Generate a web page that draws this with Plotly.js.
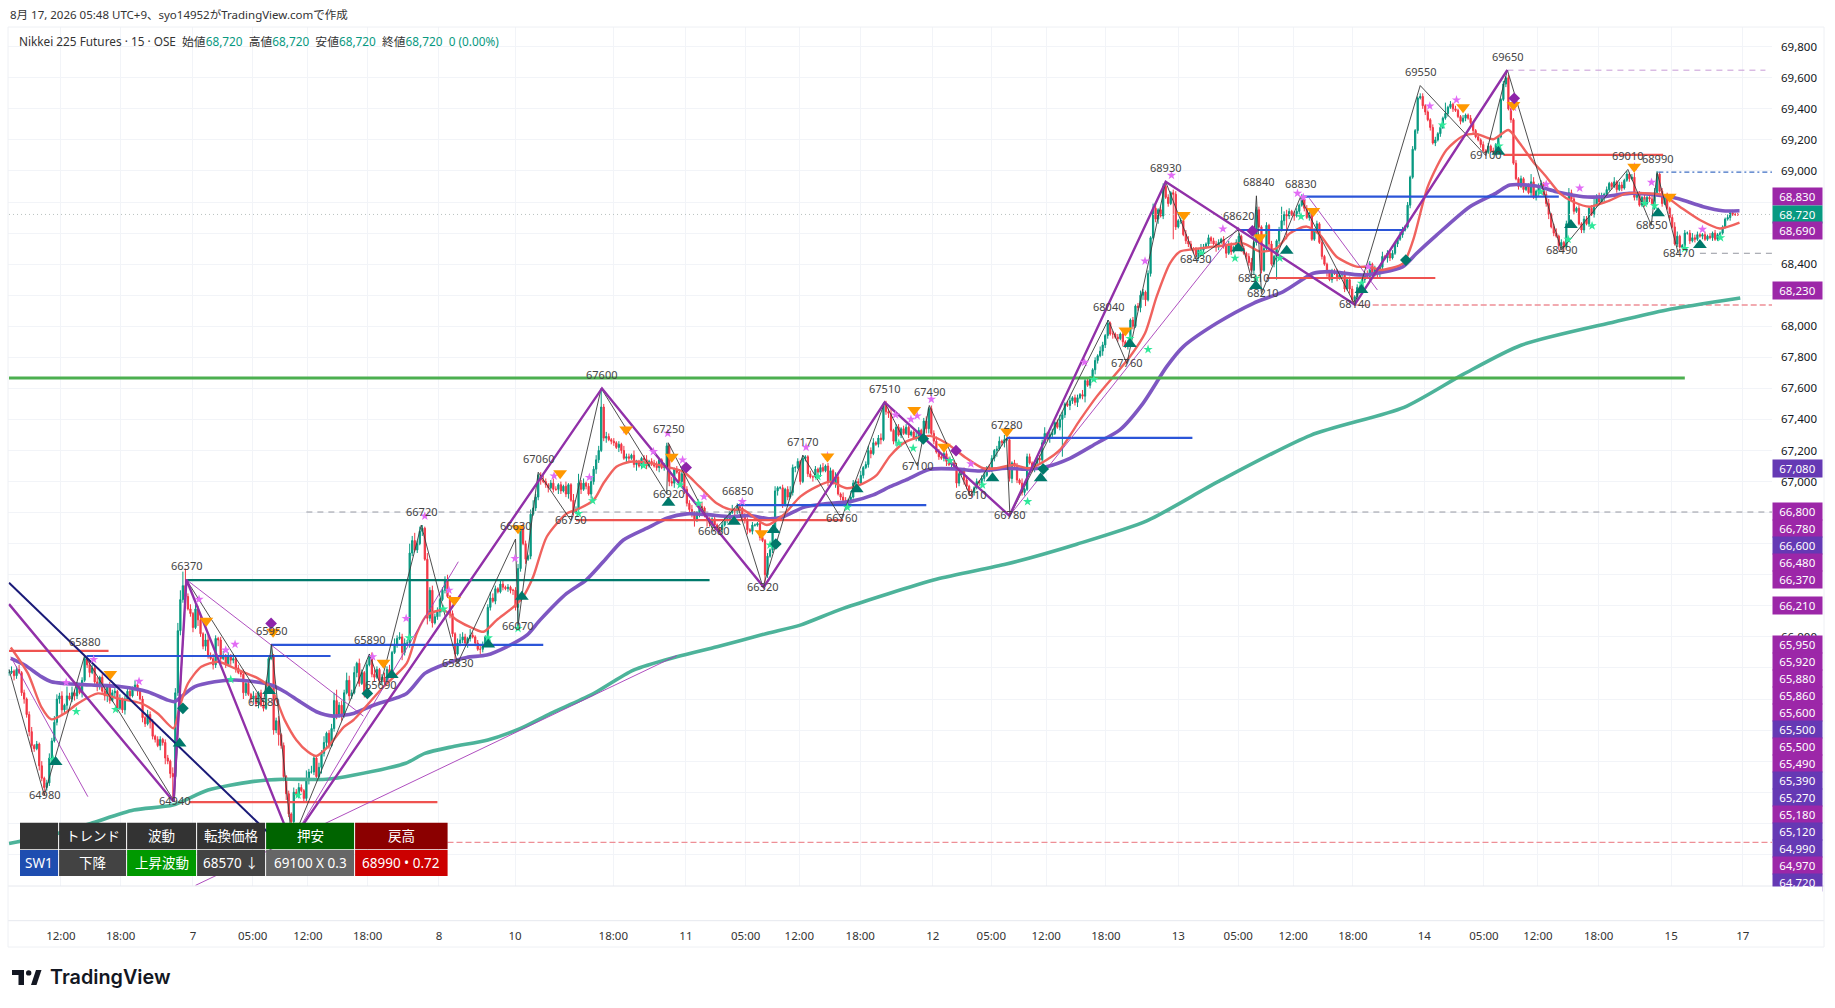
<!DOCTYPE html>
<html><head><meta charset="utf-8">
<script src="https://cdn.plot.ly/plotly-3.0.1.min.js"></script>
<style>html,body{margin:0;padding:0;background:#fff}#c{width:1835px;height:1008px}</style></head>
<body><div id="c"></div>
<script>
// ---------- price data (15 minute bars) ----------
const closes=[
65770,65780,65750,65790,65770,65640,65600,65500,65390,65300,
65280,65310,65170,65090,65030,65060,65220,65330,65450,65600,
65620,65530,65560,65620,65600,65640,65620,65680,65640,65720,
65860,65820,65770,65800,65710,65680,65740,65650,65620,65680,
65590,65640,65650,65540,65600,65530,65600,65650,65620,65670,
65690,65650,65600,65480,65440,65500,65450,65360,65340,65300,
65340,65320,65220,65200,65120,65100,65640,66040,66240,66330,
66260,66180,66150,66060,66180,66110,66020,65940,65980,65880,
65860,65820,65990,65980,65860,65880,65820,65880,65850,65860,
65800,65770,65760,65640,65700,65630,65600,65620,65570,65640,
65560,65540,65700,65860,65880,65400,65460,65370,65300,65100,
64990,64860,64810,65000,64990,65030,65010,64960,65080,65130,
65130,65220,65100,65160,65250,65320,65380,65300,65410,65590,
65500,65560,65500,65640,65720,65620,65640,65770,65830,65700,
65770,65640,65820,65880,65760,65740,65790,65720,65740,65710,
65790,65760,65900,65950,65990,66000,65900,65960,65960,66540,
66620,66560,66600,66680,66700,66500,66120,66300,66090,66130,
66160,66240,66300,66370,66260,66150,66020,65890,65960,65980,
66000,65960,65990,66010,66000,65960,65920,65920,65950,66000,
66190,66250,66230,66310,66290,66340,66320,66310,66320,66300,
66300,66190,66440,66700,66600,66500,66520,66790,66830,66900,
67040,67010,67000,66980,66960,66990,66950,66950,66980,66940,
66970,66920,66980,66880,66800,66820,66990,66950,66990,66970,
66920,67000,67080,67140,67200,67480,67280,67290,67270,67260,
67250,67220,67240,67200,67150,67160,67150,67170,67110,67120,
67100,67150,67140,67100,67130,67120,67100,67090,67140,67090,
67100,67230,67000,66990,67080,67060,67000,67050,66950,66860,
66820,66790,66750,66800,66840,66830,66780,66760,66730,66760,
66720,66700,66690,66720,66760,66760,66800,66820,66810,66840,
66830,66780,66750,66690,66680,66720,66720,66730,66640,66620,
66400,66520,66560,66700,66940,66960,66960,66850,66950,66900,
66930,67090,67090,67130,67000,67150,67160,67050,67030,67030,
67080,67060,67090,67070,67100,67000,67070,66990,67030,66920,
66900,66880,66840,66880,66900,66990,67000,66990,67040,67090,
67110,67200,67180,67250,67240,67280,67270,67500,67450,67440,
67330,67260,67350,67300,67340,67310,67350,67300,67320,67280,
67290,67330,67300,67390,67340,67470,67310,67260,67190,67160,
67150,67180,67130,67110,67120,67090,66990,67050,67070,67010,
66970,66930,66930,66960,67000,66990,67020,67040,67090,67070,
67150,67200,67210,67260,67250,67270,67270,67020,67120,67100,
67010,66990,66930,66950,67160,67120,67080,67120,67150,67140,
67250,67310,67280,67300,67310,67380,67350,67400,67430,67500,
67490,67520,67540,67510,67540,67560,67550,67650,67620,67660,
67720,67780,67810,67840,67880,67940,68020,67950,67950,67930,
67920,67950,67900,67870,67880,68040,68000,68130,68120,68200,
68220,68170,68340,68570,68760,68690,68750,68710,68900,68830,
68790,68860,68850,68640,68680,68680,68590,68550,68530,68500,
68490,68460,68490,68490,68510,68530,68570,68550,68530,68510,
68540,68560,68520,68470,68520,68480,68510,68540,68580,68500,
68470,68450,68410,68360,68540,68750,68640,68360,68500,68650,
68530,68400,68450,68550,68620,68680,68720,68710,68740,68720,
68710,68740,68780,68820,68760,68700,68730,68560,68620,68660,
68540,68450,68400,68350,68300,68350,68340,68310,68330,68340,
68240,68300,68240,68170,68190,68250,68240,68300,68340,68320,
68400,68330,68370,68340,68380,68450,68440,68470,68440,68470,
68530,68560,68590,68620,68640,68780,68960,69140,69260,69470,
69480,69420,69380,69330,69280,69180,69200,69240,69280,69340,
69370,69410,69430,69400,69390,69350,69320,69340,69360,69340,
69310,69260,69220,69200,69170,69130,69120,69160,69130,69120,
69170,69220,69460,69560,69600,69400,69330,69050,68950,68900,
68950,68880,68900,68860,68930,68830,68870,68900,68920,68850,
68790,68720,68640,68600,68580,68520,68540,68510,68660,68860,
68820,68740,68760,68660,68620,68690,68660,68760,68720,68780,
68840,68800,68830,68850,68880,68920,68900,68930,68880,68910,
68890,68940,68980,68950,68960,68830,68850,68780,68830,68790,
68830,68820,68790,68860,68980,68870,68790,68840,68760,68700,
68640,68530,68580,68510,68520,68600,68600,68550,68570,68560,
68590,68580,68590,68560,68580,68570,68600,68560,68590,68600,
68640,68690,68700,68730,68720,68720,68720];
// upper and lower wick lengths of each bar, in units of 10 points
const wickUp=[
2,3,1,2,3,1,2,1,2,3,1,2,1,3,1,2,3,2,4,3,2,3,1,6,2,4,2,3,1,2,
2,1,3,2,2,3,1,2,4,1,3,2,2,1,3,1,2,3,2,1,3,1,2,2,1,3,2,2,1,2,
2,1,2,2,1,4,3,5,6,9,11,2,3,1,5,2,2,1,4,3,2,3,2,1,2,3,1,2,1,3,
2,2,1,3,1,2,1,3,2,1,2,3,2,1,7,1,2,3,1,2,1,2,1,3,2,3,2,1,6,2,
4,2,1,3,2,4,1,2,3,5,7,2,3,2,5,3,2,4,1,3,2,1,3,1,2,3,2,1,2,3,
2,3,1,4,2,3,2,3,2,6,3,5,2,3,2,1,4,2,3,2,3,1,2,2,3,1,2,1,3,4,
3,2,1,4,2,1,2,3,2,1,2,4,3,2,1,2,3,1,2,1,1,2,3,2,3,2,1,3,5,2,
1,2,3,2,1,2,3,2,1,2,1,3,1,1,4,2,6,2,3,1,2,3,2,3,3,12,2,3,2,1,
2,1,2,1,3,2,2,1,3,2,2,1,2,3,1,2,2,3,1,1,2,2,1,3,1,2,2,3,1,2,
2,3,2,1,2,3,1,2,1,1,2,1,1,2,2,1,1,3,1,2,2,1,2,2,1,2,1,1,2,1,
1,2,1,2,3,1,1,2,1,2,4,2,1,2,1,2,1,1,2,1,2,1,2,3,1,2,2,1,3,2,
1,3,2,1,3,2,1,2,3,1,2,3,2,3,1,2,3,1,2,2,3,1,2,2,1,2,2,1,1,1,
3,2,1,2,3,1,2,2,3,2,1,4,2,3,1,2,3,1,1,2,3,1,2,1,2,1,2,3,1,2,
2,1,2,3,1,3,1,2,1,2,2,1,3,1,2,2,1,1,1,2,2,4,1,2,3,1,2,3,2,1,
2,3,1,2,2,1,3,2,1,2,1,2,1,3,2,1,2,1,2,1,2,1,2,1,3,1,2,1,2,3,
2,1,2,1,3,3,1,2,2,1,2,1,2,2,1,2,2,3,3,2,1,2,1,4,2,1,2,1,2,2,
2,1,2,1,3,2,1,2,2,1,2,1,2,3,1,2,2,1,2,2,1,2,1,1,2,9,2,3,2,1,
2,2,1,3,1,2,1,2,1,2,1,2,1,1,1,2,2,3,2,1,2,1,2,2,1,2,1,2,1,2,
2,1,2,1,1,3,1,2,1,2,1,1,2,2,1,2,1,2,1,1,2,2,1,1,1,2,2,1,2,1,
7,1,2,1,2,1,1,2,1,1,2,1,1,2,1,2,1,2,1,2,1,1,1,2,1,2,1,1,2,1,
2,1,1,2,5,3,1,2,2,1,2,3,1,2,3,1,2,1,2,3,2,2,1,2,1,2,2,1,2,6,
1,2,3,1,2,1,1,3,1,2,2,1,2,1,2,3,1,2,1,2,1,1,2,3,2,1,2,1,2,1,
2,3,3,1,1,2,1,2,3,2,2,1,1,2,1,2,1,2,1,1,1,1,2,1,2,1,1,1,2,1];
const wickDn=[
2,1,3,2,1,2,3,2,3,4,2,1,3,2,5,2,2,3,1,2,3,4,2,3,1,2,3,2,1,3,
1,2,3,1,2,3,2,1,3,4,2,1,3,2,1,2,3,1,2,1,2,3,1,3,2,1,4,2,2,1,
3,2,4,2,3,16,1,2,3,2,2,1,2,3,1,4,2,2,3,2,1,3,2,4,3,1,2,1,3,2,
3,1,2,4,2,1,3,2,2,3,1,2,1,2,1,3,2,7,2,3,4,2,13,1,2,3,1,3,2,3,
1,2,3,1,4,2,3,2,1,2,3,2,4,2,1,3,2,1,3,2,1,3,2,1,2,3,1,2,3,2,
1,2,3,1,2,1,5,2,1,3,2,1,2,1,3,1,4,2,3,1,2,3,1,2,1,3,2,4,1,2,
2,1,3,2,1,2,1,3,2,1,1,2,1,2,1,1,2,1,2,2,3,2,12,2,1,3,1,2,1,2,
2,3,1,2,3,1,2,1,3,2,1,2,3,1,2,1,1,3,1,2,1,3,2,3,2,1,2,3,1,2,
2,1,3,2,1,3,2,1,2,4,1,2,3,2,1,2,1,2,3,1,2,1,3,2,3,1,1,2,3,2,
3,2,4,1,3,2,1,5,2,3,3,1,2,2,1,3,2,1,3,2,1,2,2,3,1,2,1,1,2,1,
8,2,1,2,1,3,1,2,1,2,1,2,3,1,2,1,2,2,1,3,1,2,3,1,1,3,2,1,3,1,
2,3,1,1,2,1,3,2,1,2,1,2,3,1,1,2,3,1,2,3,1,2,3,1,2,1,1,2,1,1,
2,3,1,2,3,3,1,2,1,2,1,2,3,1,2,1,3,2,1,3,2,1,3,2,1,2,3,2,1,1,
1,2,4,1,2,3,1,2,3,1,2,1,2,2,1,1,2,2,1,2,3,1,2,3,2,1,1,2,24,2,
1,3,2,2,3,1,2,4,1,2,1,3,2,1,3,2,2,1,3,1,2,1,3,1,2,1,2,1,2,3,
3,4,1,2,1,2,3,1,2,1,2,1,29,2,1,2,1,2,2,1,2,1,3,1,2,1,2,2,1,3,
2,1,2,3,1,2,1,2,1,2,1,2,2,1,3,2,1,2,1,1,3,1,2,15,2,1,3,15,2,1,
3,1,2,1,2,1,2,1,1,2,1,2,1,3,1,2,1,2,1,2,2,1,3,2,1,2,3,1,2,1,
2,1,1,3,3,2,1,3,2,1,1,2,1,2,1,1,2,1,1,2,1,2,2,1,2,1,2,1,2,1,
1,2,1,2,1,1,2,1,2,1,1,2,1,1,2,1,2,1,1,1,2,1,1,1,2,1,2,1,1,2,
1,2,1,1,2,1,2,3,1,1,2,3,1,2,1,3,2,3,1,2,1,2,1,1,2,2,1,2,1,2,
1,2,1,3,1,1,2,1,2,1,2,1,1,2,1,2,2,1,1,2,1,2,1,4,1,1,2,1,1,2,
1,1,2,1,1,2,1,2,1,2,1,1,2,1,1,1,2,1,1,2,1,1,1,2,1,1,1,1,2,1];

// ---------- moving averages (bar index, price) ----------
const maPurpleX=[0.7,6.2,12.8,16.8,22,32.7,44.6,55,63,65.7,68.4,73.7,81.6,89.5,97.5,104,109.4,115.5,122,128.7,136.7,144.6,157.8,165,173.7,181.6,189.6,197.5,205.5,210.7,221.3,229,235.9,243.8,254.4,261,269,277,286.2,294,302,307.3,315.3,323.2,333.8,343,349.6,356,365.4,376,385.3,395.9,403.8,411.7,421,431.6,440.8,450,459.4,466,479.2,493.8,505.7,517.6,524,537.4,553,558.5,566.5,579.7,590,595.6,606,614,624.7,632.6,643,653.8,661.7,672.3,680,686.7];
const maPurpleY=[65862,65819,65744,65711,65700,65690,65679,65647,65593,65583,65615,65679,65711,65722,65711,65690,65647,65582,65518,65490,65507,65560,65636,65765,65829,65868,65883,65936,66011,66108,66280,66366,66485,66624,66710,66764,66792,66787,66774,66781,66760,66774,66834,66856,66871,66914,66967,67011,67079,67081,67068,67086,67079,67096,67150,67247,67333,67504,67740,67869,68019,68148,68223,68341,68352,68330,68383,68469,68587,68770,68856,68909,68903,68866,68834,68834,68856,68845,68824,68770,68744,68744];
const maRedX=[0.7,7.5,12.8,16.8,22,27.4,35.3,43.2,52.5,59,65.3,67.7,71,76.3,83,90.9,98.8,104,109.4,114,118.6,122,126.6,132.9,136.7,148.6,157.8,161.8,165.8,172.4,177.7,184.3,188.3,193.5,200,204,208,213.4,221.3,225,232,235.9,241,246.5,253,259.7,267.6,274,280.8,286,291.4,296.7,300.7,307.3,314,320.5,325.8,332.5,339,344.4,349.6,356,365.4,372,380,386.6,392,398.5,405,411.7,417,425,431.6,444.8,450.8,455.4,460.7,464.7,470,480.5,489.8,496.4,503,508.3,515,520.2,526.8,534.8,540,544,553.2,557.2,563,570.4,577,582.3,589,595,599.5,604.8,610,615.4,620.7,627.3,634,641.9,649.8,656.4,663,671,678.9,686.7];
const maRedY=[65932,65765,65550,65469,65507,65572,65636,65604,65572,65507,65411,65550,65700,65808,65840,65787,65733,65668,65464,65336,65260,65233,65293,65421,65465,65679,65829,66022,66140,66172,66108,66054,66033,66108,66190,66258,66387,66645,66795,66817,66881,66989,67096,67128,67122,67100,67064,66967,66860,66821,66817,66757,66720,66785,66903,66968,67000,66957,66989,67043,67165,67257,67294,67247,67150,67086,67086,67107,67086,67139,67204,67397,67547,67804,67955,68191,68405,68481,68496,68517,68534,68481,68502,68599,68642,68588,68448,68384,68384,68362,68405,68555,68899,69135,69225,69238,69204,69264,69178,69060,68963,68856,68802,68770,68802,68856,68856,68845,68770,68684,68630,68667];
const maTealX=[0,16.7,32.4,49.5,65,79,96.4,109,126,137,157.4,165,176,190,203,215,231,247.8,265,281,300.7,314,330.8,368,395.8,423.7,451.5,479.4,516.5,553.6,577,600,637.3,657.8,687];
const maTealY=[64670,64724,64799,64885,64917,65014,65068,65083,65083,65111,65186,65250,65293,65336,65411,65508,65626,65786,65872,65937,66022,66076,66182,66371,66469,66597,66747,66996,67298,67478,67690,67878,68029,68105,68182];

// ---------- swing structure ----------
const zigBlackX=[0,14,30,65.6,70.3,101,104.2,112.3,143,147.4,163.6,178,201,202,210,223,235,261,261.6,279.7,289,299.2,315,330.3,347.5,360.5,365.2,381.4,395.8,397.2,436.2,443.6,459,471,487.8,493,495,497,512.4,534,560,586,594.6,616,642.4,651.7,654,662.4];
const zigBlackY=[65790,64980,65880,64940,66370,65580,65950,64680,65890,65690,66720,65830,66630,66070,67060,66750,67600,66920,67250,66680,66850,66320,67170,66760,67510,67100,67490,66910,67280,66780,68040,67760,68930,68430,68620,68310,68840,68210,68830,68140,69550,69100,69650,68490,69010,68650,68990,68470];
const zigPurpleX=[0,65.3,70.4,112,235.3,299.5,347.5,397,459,534,594.6];
const zigPurpleY=[66211,64940,66370,64680,67600,66320,67510,66780,68930,68140,69650];
const trendNavyX=[0,106];
const trendNavyY=[66349,64690];
const thinLines=[[[0.7,65872],[31.3,64971]],[[70.6,66366],[140.6,65490]],[[74,64400],[265,65880]],[[112,64680],[178.3,66484]],[[397,66780],[488,68640]],[[516,68824],[543,68234]]];

const pivotLabelX=[14,30,65.6,70.3,101,104.2,143.2,147.4,163.6,178,201,201.7,210,223,235.3,261.6,261.6,279.7,289,299.2,315,330.3,347.5,360.5,365.2,381.4,395.8,397.2,436.2,443.6,459,471,487.8,493.7,497.5,496,512.4,534,560,586,594.6,616,642.4,654,651.7,662.4];
const pivotLabelV=[64980,65880,64940,66370,65580,65950,65890,65690,66720,65830,66630,66070,67060,66750,67600,66920,67250,66680,66850,66320,67170,66760,67510,67100,67490,66910,67280,66780,68040,67760,68930,68430,68620,68310,68210,68840,68830,68140,69550,69100,69650,68490,69010,68990,68650,68470];
const pivotIsHigh=[0,1,0,1,0,1,1,0,1,0,1,0,1,0,1,0,1,0,1,0,1,0,1,0,1,0,1,0,1,0,1,0,1,0,0,1,1,0,1,0,1,0,1,1,0,0];

// level lines [price, first bar, last bar]
const levelsRed=[[65910,0,39.5],[64936,71.4,170],[66752,225,331],[68311,499,566],[69103,593,656.4]];
const levelsBlue=[[65877,30.8,127.6],[65948,104,212],[66849,289,364],[67281,395.8,469.6],[68835,513.6,615],[68620,487.8,554]];
const levelsTeal=[[66366,70.6,278]];
const levelsGreen=[[67667,0,665]];
const AX_END=699.6;
const dashedPink=[[68137,534,AX_END],[64677,174,AX_END]];
const dashedGrey=[[66804,118,AX_END],[68470,671,AX_END]];
const dashedMauve=[[69649,594.6,697]];
const dashedBlue=[[68993,654.5,AX_END]];
const LAST_PRICE=68720;

// ---------- signal markers ----------
const triUpX=[18.5,67.7,103.2,151.9,190.2,203.5,261.7,287.7,303.4,336.4,390.3,409.4,444.8,494.8,507,487.8,536.7,591,619.8,654.4,671];
const triUpY=[65194,65314,65651,65754,65951,66258,66864,66742,66688,66950,67021,67021,67886,68259,68487,68502,68234,69124,68652,68727,68523];
const triDownX=[40.2,78.3,104.8,148.6,176.7,202,218.7,244.9,263,298.6,324.8,359.2,371,396,443,466.2,496.4,517.6,577,597,644.9,659];
const triDownY=[65761,66104,66033,65833,66237,66699,67053,67336,67160,66667,67161,67461,67225,67322,67972,68717,68573,68743,69410,69425,69027,68834];
const starPinkX=[22.7,33.6,51.6,75.4,86,89.7,144.3,157.6,165,174.6,200.8,216.3,230.3,255.7,261.4,267.3,275.8,291,244.7,316.3,324.8,351.8,357.9,360.4,366,381.7,426.8,450.8,461.3,481.7,511.3,513.6,539.4,563.8,574.4,597,610,623.3,651.8,645,672];
const starPinkY=[65707,65855,65714,66242,65915,65952,65872,66119,66778,66301,66505,67036,67027,67193,67311,67139,66903,66871,67333,67221,67165,67429,67401,67423,67530,67114,67768,68420,68972,68627,68856,68830,68384,69418,69457,69410,68914,68890,68927,69027,68624];
const starGreenX=[17.5,26.7,42.3,88,114.7,158.8,172.4,190.2,202,226,231.6,266.3,251.8,273.6,302,321,332.7,353.1,358.8,373.4,386.3,404.2,430.5,444.8,452,473.2,486.5,494.8,504.3,512.7,536.7,591.3,568.8,607.7,618.7,628.2,649,653,665,679.2];
const starGreenY=[65211,65520,65533,65726,64981,65994,66179,65994,66054,66795,66877,66978,67103,66860,66592,67032,66834,67247,67215,67135,66978,66871,67658,67922,67851,68470,68438,68309,68438,68706,68277,69161,69296,68866,68560,68647,68791,68776,68501,68570];
const diamondPurpleX=[104,268.7,375.8,493.4,597.3];
const diamondPurpleY=[66087,67090,67199,68614,69468];
const diamondTealX=[142.2,304.3,69,410.4,554.3,362.8];
const diamondTealY=[65636,66598,65540,67081,68426,67275];

// ---------- axes ----------
const xTickPos=[20.6,44.3,73,96.7,118.6,142.3,170.6,200.8,239.8,268.6,292.3,313.6,337.8,366.6,389.8,411.6,435.3,464,487.8,509.6,533.3,561.6,585.3,606.7,630.8,659.6,688];
const xTickText=["12:00","18:00","7","05:00","12:00","18:00","8","10","18:00","11","05:00","12:00","18:00","12","05:00","12:00","18:00","13","05:00","12:00","18:00","14","05:00","12:00","18:00","15","17"];
const yTicks=[64600,64800,65000,65200,65400,65600,65800,66000,66200,66400,66600,66800,67000,67200,67400,67600,67800,68000,68200,68400,68600,68800,69000,69200,69400,69600,69800];
// ticks whose label is hidden by the price tags in the picture
const yTicksHidden=[64600,64800,65000,65200,65400,65600,65800,66200,66400,66600,66800,68200,68600,68800];

// ---------- price scale tags ----------
const tagValues=[68830,68720,68690,68230,67080,66800,66780,66600,66480,66370,66210,65950,65920,65880,65860,65600,65500,65500,65490,65390,65270,65180,65120,64990,64970,64720];

// ---------- table ----------
const tableHeader=["","トレンド","波動","転換価格","押安","戻高"];
const tableRow=["SW1","下降","上昇波動","68570 ↓","69100 X 0.3","68990 • 0.72"];
const headerFill=["#333333","#333333","#333333","#333333","#006400","#8b0000"];
const rowFill=["#1e4db0","#434343","#009900","#434343","#666666","#cc0000"];

// ---------- text ----------
const titleText="8月 17, 2026 05:48 UTC+9、syo14952がTradingView.comで作成";
const seriesName="Nikkei 225 Futures · 15 · OSE";
const ohlcLabels=["始値","高値","安値","終値"];
const ohlcValues=["68,720","68,720","68,720","68,720"];
const changeText="0 (0.00%)";

// ---------- build ----------
const FONT='"Noto Sans","Noto Sans CJK JP",sans-serif';
const L=8,R=1772,T=27,B=886,W=1835,H=1008;
const px=x=>(x-L)/(R-L), py=y=>1-(y-T)/(B-T);
const opens=closes.map((c,i)=>i?closes[i-1]:c);
const highs=closes.map((c,i)=>Math.max(c,opens[i])+wickUp[i]*10);
const lows=closes.map((c,i)=>Math.min(c,opens[i])-wickDn[i]*10);
const idx=closes.map((_,i)=>i);

function levelTrace(list,color,width,dash){
  const x=[],y=[];
  list.forEach(l=>{x.push(l[1],l[2],null);y.push(l[0],l[0],null)});
  return {type:'scatter',mode:'lines',x,y,line:{color,width,dash:dash||'solid'},hoverinfo:'skip',showlegend:false};
}
function lineTrace(x,y,color,width,shape){
  return {type:'scatter',mode:'lines',x,y,line:{color,width,shape:shape||'linear',smoothing:0.7},hoverinfo:'skip',showlegend:false};
}
function markerTrace(x,y,symbol,color,size){
  return {type:'scatter',mode:'markers',x,y,marker:{symbol,color,size,line:{width:0}},hoverinfo:'skip',showlegend:false};
}
const thinX=[],thinY=[];
thinLines.forEach(s=>{thinX.push(s[0][0],s[1][0],null);thinY.push(s[0][1],s[1][1],null)});

const traces=[
  levelTrace(dashedPink,'#ee8f96',1.3,'6px,3px'),
  levelTrace(dashedGrey,'#9598a1',1,'6px,5px'),
  levelTrace(dashedMauve,'#c79ad6',1,'6px,5px'),
  levelTrace(dashedBlue,'#3f6fc4',1.2,'5px,3px,2px,3px'),
  levelTrace([[LAST_PRICE,0,AX_END]],'#b9c2c0',1,'1px,3px'),
  {type:'candlestick',x:idx,open:opens,high:highs,low:lows,close:closes,
   increasing:{line:{color:'#089981',width:1},fillcolor:'#089981'},
   decreasing:{line:{color:'#f23645',width:1},fillcolor:'#f23645'},
   whiskerwidth:0,hoverinfo:'skip',showlegend:false},
  lineTrace(maTealX,maTealY,'#4db39a',3.6,'spline'),
  lineTrace(maPurpleX,maPurpleY,'#7e57c2',3.6,'spline'),
  lineTrace(maRedX,maRedY,'#f0625e',2.4,'spline'),
  levelTrace(levelsRed,'#ef5350',2.2),
  levelTrace(levelsBlue,'#2b55d8',2.2),
  levelTrace(levelsTeal,'#00796b',2.2),
  levelTrace(levelsGreen,'#4caf50',3),
  lineTrace(thinX,thinY,'#a63bb8',0.9),
  lineTrace(zigBlackX,zigBlackY,'#3a3a3a',0.9),
  lineTrace(zigPurpleX,zigPurpleY,'#9130a8',2.4),
  lineTrace(trendNavyX,trendNavyY,'#1a1a78',2),
  markerTrace(starGreenX,starGreenY,'star','#2ee89a',7),
  markerTrace(starPinkX,starPinkY,'star','#e26cf5',7),
  markerTrace(triUpX,triUpY,'triangle-up','#00796b',12),
  markerTrace(triDownX,triDownY,'triangle-down','#ff9800',12),
  markerTrace(diamondPurpleX,diamondPurpleY,'diamond','#8e24aa',9),
  markerTrace(diamondTealX,diamondTealY,'diamond','#00796b',9)
];

const shapes=[];
const annos=[];
function rect(x0,y0,x1,y1,fill){shapes.push({type:'rect',xref:'paper',yref:'paper',x0:px(x0),x1:px(x1),y0:py(y0),y1:py(y1),fillcolor:fill,line:{width:0},layer:'above'})}
function hline(x0,x1,y,color){shapes.push({type:'line',xref:'paper',yref:'paper',x0:px(x0),x1:px(x1),y0:py(y),y1:py(y),line:{color,width:1},layer:'above'})}
function vline(x,y0,y1,color){shapes.push({type:'line',xref:'paper',yref:'paper',x0:px(x),x1:px(x),y0:py(y0),y1:py(y1),line:{color,width:1},layer:'above'})}
function text(x,y,t,size,color,anchor,extra){annos.push(Object.assign({xref:'paper',yref:'paper',x:px(x),y:py(y),text:t,showarrow:false,xanchor:anchor||'left',yanchor:'middle',font:{family:FONT,size,color},borderpad:0},extra||{}))}

// frame
hline(8,1824,27,'#eef0f4');hline(8,1824,886,'#e6e8ee');hline(8,1824,920.7,'#e6e8ee');hline(8,1824,947,'#eef0f4');
vline(8,27,947,'#eef0f4');vline(1824,27,947,'#eef0f4');

// table
const colEdges=[20,58.5,126.5,196.5,265.5,354.5,448];
const rows=[[822.7,849.2,tableHeader,headerFill],[850,876,tableRow,rowFill]];
rows.forEach(r=>{
  r[2].forEach((t,c)=>{
    rect(colEdges[c]+(c?0.6:0),r[0],colEdges[c+1]-0.4,r[1],r[3][c]);
    if(t) text((colEdges[c]+colEdges[c+1])/2,(r[0]+r[1])/2,t,13.5,'#ffffff','center');
  });
});

// pivot labels
pivotLabelV.forEach((v,i)=>{
  annos.push({x:pivotLabelX[i],y:v,xref:'x',yref:'y',text:String(v),showarrow:false,yshift:pivotIsHigh[i]?14:1,yanchor:'middle',xanchor:'center',font:{family:FONT,size:11,color:'#444444'}});
});

// price tags (stacked positions)
const tagY=[196.7,214,230.7,290.7,468.7,511.3,528.7,545.7,562.7,579.7,605,644.7,661.7,678.7,695.7,712.7,729.7,746.7,763.7,780.7,797.7,814.7,831.7,848.7,865.7,882.7];
const kindColor={p:'#9c27a8',i:'#6539b4',g:'#089981'};
const kinds=['p','g','p','p','i','p','p','i','p','p','p','p','p','p','p','p','i','p','p','i','i','p','i','i','p','i'];
tagValues.forEach((v,i)=>{
  text(1772,tagY[i],v.toLocaleString('en-US'),11.5,'#ffffff','left',{bgcolor:kindColor[kinds[i]],width:49,height:17,align:'center',valign:'middle'});
});
text(1771,899,' ',8,'#ffffff','left',{bgcolor:'#ffffff',width:50,height:25});
hline(1772,1824,886,'#e6e8ee');

// header
text(9,14.5,titleText,11.5,'#333333');
const g='#089981';
const leg=seriesName+'  '+ohlcLabels.map((l,i)=>l+'<span style="color:'+g+'">'+ohlcValues[i]+'</span>').join('  ')+'  <span style="color:'+g+'">'+changeText+'</span>';
text(17.5,41.5,leg,11.8,'#333333');

// logo
text(49,977,'TradingView',19.8,'#131722','left',{font:{family:'Inter,sans-serif',size:19.8,color:'#131722',weight:600}});
const logoPath=(pts)=>'M'+pts.map(p=>px(p[0])+','+py(p[1])).join('L')+'Z';
[[[12,970],[24,970],[24,985],[18.5,985],[18.5,975],[12,975]],[[31,985],[36,970],[41.5,970],[36.5,985]]].forEach(p=>{
  shapes.push({type:'path',xref:'paper',yref:'paper',path:logoPath(p),fillcolor:'#131722',line:{width:0},layer:'above'});
});
shapes.push({type:'circle',xref:'paper',yref:'paper',x0:px(26),x1:px(31.4),y0:py(975.6),y1:py(970.2),fillcolor:'#131722',line:{width:0},layer:'above'});

const layout={
  width:W,height:H,paper_bgcolor:'#ffffff',plot_bgcolor:'#ffffff',showlegend:false,
  margin:{l:L,r:W-R,t:T,b:H-B,pad:0},
  hovermode:false,dragmode:false,
  xaxis:{type:'linear',range:[-0.4,AX_END],rangeslider:{visible:false},tickmode:'array',tickvals:xTickPos,ticktext:xTickText,
    ticks:'outside',ticklen:39,tickcolor:'rgba(0,0,0,0)',tickwidth:0,showgrid:true,gridcolor:'#f2f4f8',gridwidth:1,zeroline:false,showline:false,
    tickfont:{family:FONT,size:11.5,color:'#333333'},fixedrange:true,title:{text:''}},
  yaxis:{type:'linear',range:[64396,69927],side:'right',tickmode:'array',tickvals:yTicks,ticktext:yTicks.map(v=>yTicksHidden.includes(v)?'':v.toLocaleString('en-US')),
    ticks:'',showgrid:true,gridcolor:'#f2f4f8',gridwidth:1,zeroline:false,showline:false,ticklabelstandoff:8,ticklabelshift:-2.5,
    tickfont:{family:FONT,size:11.5,color:'#131722'},fixedrange:true,title:{text:''}},
  shapes,annotations:annos
};
Plotly.newPlot('c',traces,layout,{displayModeBar:false,staticPlot:true,responsive:false});
</script></body></html>
